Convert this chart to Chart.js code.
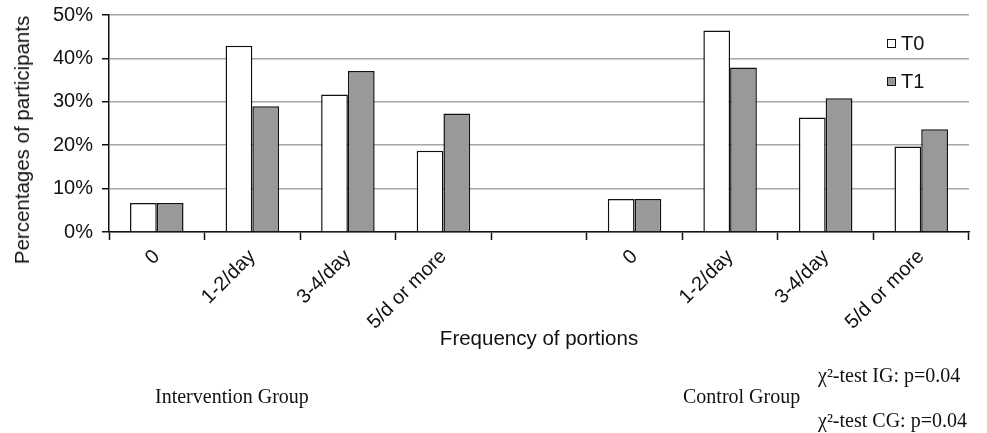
<!DOCTYPE html>
<html>
<head>
<meta charset="utf-8">
<script src="https://cdn.jsdelivr.net/npm/chart.js@4"></script>
<style>
  html, body { margin: 0; padding: 0; background: #fff; }
  #wrap { position: relative; width: 987px; height: 433px; overflow: hidden; }
  #wrap canvas { position: absolute; left: 0; top: 0; }
  .note { position: absolute; font-family: "Liberation Serif", "Times New Roman", serif; font-size: 20px; color: #111; white-space: nowrap; }
  .yttl { position: absolute; left: 22px; top: 140px; transform: translate(-50%, -50%) rotate(-90deg);
          font-family: "Liberation Sans", Arial, sans-serif; font-size: 20.5px; color: #111; white-space: nowrap; }
  .leg { position: absolute; left: 887px; font-family: "Liberation Sans", Arial, sans-serif; font-size: 20px; color: #111; line-height: 22px; }
  .leg i { display: inline-block; width: 7px; height: 7px; border: 1.5px solid #111; margin-right: 5px; vertical-align: 2px; }
</style>
</head>
<body>
<div id="wrap">
  <canvas id="fruitChart" width="987" height="433"></canvas>
  <div class="yttl">Percentages of participants</div>
  <div class="leg" style="top:32px"><i style="background:#fff"></i>T0</div>
  <div class="leg" style="top:70px"><i style="background:#999"></i>T1</div>
  <div class="note" style="left:155px; top:385px">Intervention Group</div>
  <div class="note" style="left:683px; top:385px">Control Group</div>
  <div class="note" style="left:818px; top:364px">χ²-test IG: p=0.04</div>
  <div class="note" style="left:818px; top:409px">χ²-test CG: p=0.04</div>
</div>
<script>
'use strict';

// categories (empty slot separates Intervention and Control groups)
const CATEGORIES = ['0', '1-2/day', '3-4/day', '5/d or more', '', '0', '1-2/day', '3-4/day', '5/d or more'];
const T0 = [6.7, 42.9, 31.7, 18.7, null, 7.6, 46.4, 26.4, 19.7];
const T1 = [6.7, 29.0, 37.1, 27.3, null, 7.6, 37.9, 30.8, 23.7];
const Y_TICKS = [0, 10, 20, 30, 40, 50];

const FONT = "'Liberation Sans', Arial, sans-serif";

(function initChart() {
  const c = document.getElementById('fruitChart');
  if (!c) return;
  new Chart(c.getContext('2d'), {
    type: 'bar',
    data: {
      labels: CATEGORIES,
      datasets: [
        {
          label: 'T0',
          data: T0,
          backgroundColor: '#ffffff',
          borderColor: '#111',
          borderWidth: 1.5,
        },
        {
          label: 'T1',
          data: T1,
          backgroundColor: '#999999',
          borderColor: '#111',
          borderWidth: 1.5,
        },
      ],
    },
    options: {
      responsive: false,
      animation: false,
      events: [],
      layout: { padding: { left: 8, right: 18, top: 15, bottom: 77 } },
      datasets: { bar: { categoryPercentage: 0.56, barPercentage: 1.0 } },
      plugins: { legend: { display: false }, tooltip: { enabled: false } },
      scales: {
        x: {
          afterFit: (s) => { s.height = 124; },
          grid: { offset: true, drawOnChartArea: false, tickLength: 8, tickColor: '#111', tickWidth: 1.5 },
          border: { color: '#111', width: 1.5 },
          ticks: {
            autoSkip: false, maxRotation: 45, minRotation: 45, padding: 5,
            color: '#111', font: { family: FONT, size: 20 },
          },
          title: {
            display: true, text: 'Frequency of portions',
            color: '#111', font: { family: FONT, size: 20.5 }, padding: { top: 4, bottom: 4 },
          },
        },
        y: {
          min: 0, max: 50,
          afterFit: (s) => { s.width = 101; s.paddingTop = 0; s.paddingBottom = 0; },
          afterBuildTicks: (s) => { s.ticks = Y_TICKS.map(v => ({ value: v })); },
          grid: { color: '#a6a6a6', lineWidth: 1.5, tickLength: 7, tickColor: '#111', tickWidth: 1.5 },
          border: { color: '#111', width: 1.5 },
          ticks: {
            padding: 9, color: '#111', font: { family: FONT, size: 20 },
            callback: (v) => v + '%',
          },
        },
      },
    },
  });
})();
</script>
</body>
</html>
